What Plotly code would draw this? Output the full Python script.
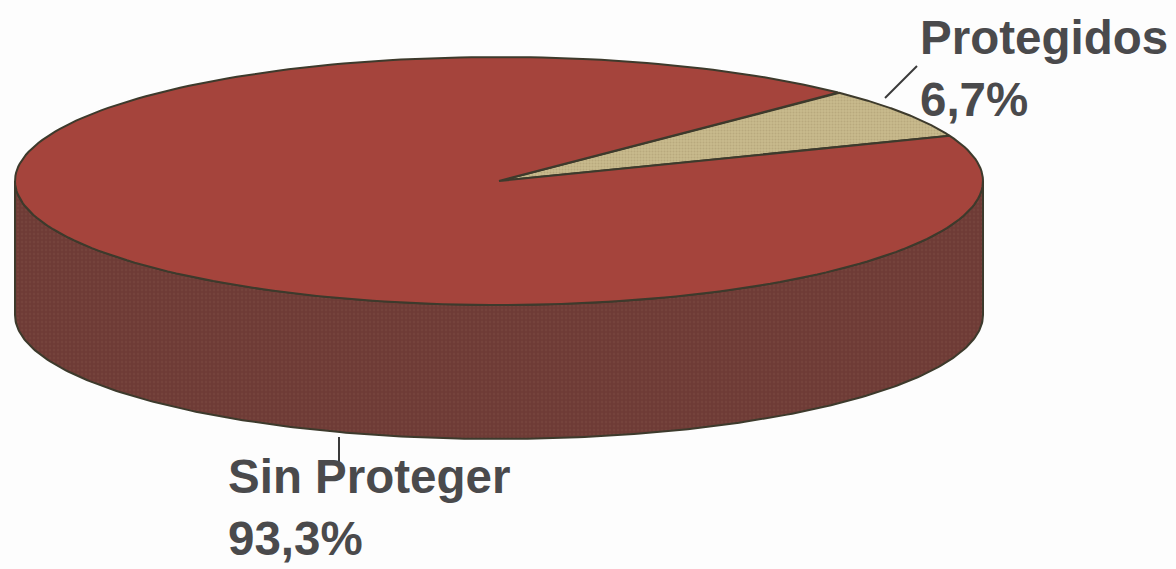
import numpy as np
import plotly.graph_objects as go

categories = ["Protegidos", "Sin Proteger"]
shares = [6.7, 93.3]

# Projection of the disc on the page, in pixels
CX, CY, RX, RY, DEPTH = 499, 181, 484, 124, 134
START_DEG = 45.5  # upper edge of the first slice; slices run clockwise

TOP_COLORS = ["#c8b98c", "#a5443c"]
SIDE_COLOR = "#6e3b36"
EDGE = "#3d3a2c"
TEXT = "#4a4a4c"


def rim(t0, t1, dy=0, n=240):
    t = np.radians(np.linspace(t0, t1, n))
    return CX + RX * np.cos(t), CY + dy - RY * np.sin(t)


fig = go.Figure()

# Side wall: front half of the top rim, returned along the bottom rim
xa, ya = rim(180, 360)
xb, yb = rim(360, 180, DEPTH)
fig.add_trace(go.Scatter(
    x=np.r_[xa, xb, xa[0]], y=np.r_[ya, yb, ya[0]],
    mode="lines", fill="toself", fillcolor=SIDE_COLOR,
    fillpattern=dict(shape=".", bgcolor=SIDE_COLOR, fgcolor="#7b4a42", size=4, solidity=0.3),
    line=dict(color=EDGE, width=2), hoverinfo="skip",
))

# Top face: one sector per category, angle taken from its share
angle = START_DEG
for name, share, color in zip(categories, shares, TOP_COLORS):
    sweep = share / sum(shares) * 360
    xs, ys = rim(angle, angle - sweep)
    kw = {}
    if name == "Protegidos":
        kw["fillpattern"] = dict(shape=".", bgcolor=color, fgcolor="#a89a70", size=3, solidity=0.35)
    fig.add_trace(go.Scatter(
        x=np.r_[CX, xs, CX], y=np.r_[CY, ys, CY],
        mode="lines", fill="toself", fillcolor=color,
        line=dict(color=EDGE, width=2), name=name, **kw,
    ))
    angle -= sweep

# Leader lines from the slices to their labels
for lx, ly in (([885, 917], [98, 66]), ([339, 339], [437, 465])):
    fig.add_trace(go.Scatter(x=lx, y=ly, mode="lines",
                             line=dict(color="#3a3a3a", width=2), hoverinfo="skip"))


def label(name):
    value = shares[categories.index(name)]
    return f"{name}<br>{value:.1f}%".replace(".", ",")


for name, x, y in (("Protegidos", 918, 68), ("Sin Proteger", 226, 507)):
    fig.add_annotation(
        x=x, y=y, text=label(name), showarrow=False, xanchor="left", yanchor="middle", align="left",
        font=dict(family="Liberation Sans", size=47.5, color=TEXT, weight="bold"),
    )

fig.update_layout(
    width=1176, height=569, margin=dict(l=0, r=0, t=0, b=0),
    showlegend=False, paper_bgcolor="#fdfdfd", plot_bgcolor="#fdfdfd",
    xaxis=dict(range=[0, 1176], visible=False, fixedrange=True),
    yaxis=dict(range=[569, 0], visible=False, fixedrange=True),
)
fig.write_html("out.html", config=dict(displayModeBar=False))
